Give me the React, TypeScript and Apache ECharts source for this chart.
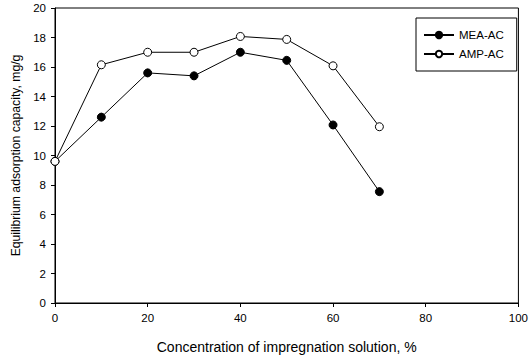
import React, { useEffect, useRef } from "react";
import * as echarts from "echarts";

const concentrations = [0, 10, 20, 30, 40, 50, 60, 70];
const meaValues = [9.6, 12.6, 15.6, 15.4, 17.0, 16.45, 12.07, 7.55];
const ampValues = [9.6, 16.15, 17.0, 17.0, 18.07, 17.87, 16.08, 11.95];
const seriesNames = ["MEA-AC", "AMP-AC"];

export default function App() {
  const ref = useRef<HTMLDivElement>(null);
  useEffect(() => {
    if (!ref.current) return;
    const chart = echarts.init(ref.current, undefined, { renderer: "svg" });
    const font = "Liberation Sans, Arial, sans-serif";
    const mk = (vals: number[]) => concentrations.map((c, i) => [c, vals[i]]);
    chart.setOption({
      animation: false,
      backgroundColor: "#fff",
      textStyle: { fontFamily: font },
      grid: {
        left: 55,
        right: 10,
        top: 8,
        bottom: 50,
        show: true,
        borderColor: "#000",
        borderWidth: 1,
        backgroundColor: "transparent",
      },
      legend: {
        left: 416,
        top: 18,
        orient: "vertical",
        itemGap: 7,
        itemWidth: 30,
        itemHeight: 8,
        padding: [11, 13, 11, 7],
        borderColor: "#000",
        borderWidth: 1,
        textStyle: { fontFamily: font, fontSize: 11.5, color: "#000" },
        data: seriesNames,
      },
      xAxis: {
        type: "value",
        min: 0,
        max: 100,
        interval: 20,
        name: "Concentration of impregnation solution, %",
        nameLocation: "middle",
        nameGap: 37,
        nameTextStyle: { fontFamily: font, fontSize: 14, color: "#000" },
        axisLine: { lineStyle: { color: "#000", width: 1 } },
        axisTick: { inside: false, length: 4, lineStyle: { color: "#000" } },
        axisLabel: { fontFamily: font, fontSize: 11.5, color: "#000", margin: 9 },
        splitLine: { show: false },
      },
      yAxis: {
        type: "value",
        min: 0,
        max: 20,
        interval: 2,
        name: "Equilibrium adsorption capacity, mg/g",
        nameLocation: "middle",
        nameGap: 33,
        nameTextStyle: { fontFamily: font, fontSize: 12.2, color: "#000" },
        axisLine: { lineStyle: { color: "#000", width: 1 } },
        axisTick: { inside: false, length: 4, lineStyle: { color: "#000" } },
        axisLabel: { fontFamily: font, fontSize: 11.5, color: "#000", margin: 9 },
        splitLine: { show: false },
      },
      series: [
        {
          name: seriesNames[0],
          type: "line",
          data: mk(meaValues),
          symbol: "circle",
          symbolSize: 8,
          lineStyle: { color: "#000", width: 1 },
          itemStyle: { color: "#000", borderColor: "#000", borderWidth: 1 },
          z: 2,
        },
        {
          name: seriesNames[1],
          type: "line",
          data: mk(ampValues),
          symbol: "circle",
          symbolSize: 8,
          lineStyle: { color: "#000", width: 1 },
          itemStyle: { color: "#fff", borderColor: "#000", borderWidth: 1 },
          z: 3,
        },
      ],
    });
    return () => chart.dispose();
  }, []);
  return <div ref={ref} style={{ width: 531, height: 359, position: "absolute", left: 0, top: 0 }} />;
}
